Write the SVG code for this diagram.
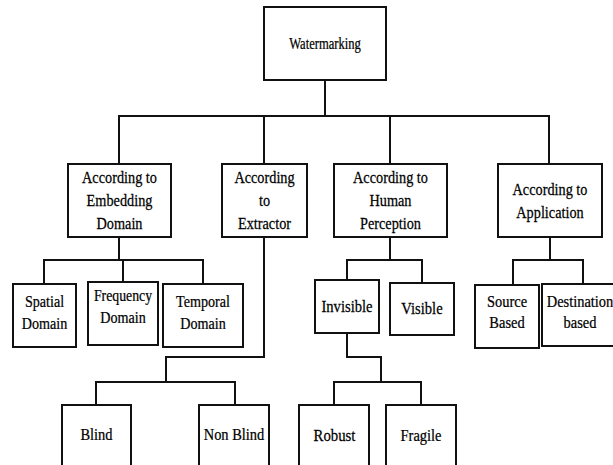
<svg xmlns="http://www.w3.org/2000/svg" width="613" height="465" viewBox="0 0 613 465">
<style>
  .box { fill: #fff; stroke: #111; stroke-width: 2; }
  .conn { fill: none; stroke: #111; stroke-width: 2; stroke-linejoin: miter; stroke-linecap: square; }
  text { font-family: 'Liberation Serif', 'DejaVu Serif', 'Times New Roman', serif; font-size: 17px; fill: #000; text-anchor: middle; stroke: #000; stroke-width: 0.25; }
</style>
<rect width="613" height="465" fill="#fff"/>
<g id="connectors">
  <polyline class="conn" points="325,80 325,116"/>
  <polyline class="conn" points="119,164 119,116 549,116 549,164"/>
  <polyline class="conn" points="264,116 264,164"/>
  <polyline class="conn" points="390,116 390,164"/>
  <polyline class="conn" points="119,237 119,260"/>
  <polyline class="conn" points="44,284 44,260 203,260 203,284"/>
  <polyline class="conn" points="123,260 123,282"/>
  <polyline class="conn" points="264,237 264,357 166,357 166,382"/>
  <polyline class="conn" points="96,405 96,382 235,382 235,405"/>
  <polyline class="conn" points="390,237 390,260"/>
  <polyline class="conn" points="347,280 347,260 422,260 422,283"/>
  <polyline class="conn" points="347,333 347,357 381,357 381,382"/>
  <polyline class="conn" points="334,405 334,382 421,382 421,405"/>
  <polyline class="conn" points="550,237 550,260"/>
  <polyline class="conn" points="513,285 513,260 583,260 583,284"/>
</g>
<g id="watermarking">
  <rect class="box" x="264" y="7" width="122" height="73"/>
  <text transform="translate(325 0) scale(0.74 1)" x="0" y="49" font-size="16">Watermarking</text>
</g>
<g id="embedding">
  <rect class="box" x="68" y="164" width="103" height="73"/>
  <text transform="translate(119.5 0) scale(0.84 1)" x="0" y="183">According to</text>
  <text transform="translate(119.5 0) scale(0.84 1)" x="0" y="206">Embedding</text>
  <text transform="translate(119.5 0) scale(0.84 1)" x="0" y="229">Domain</text>
</g>
<g id="extractor">
  <rect class="box" x="222" y="164" width="85" height="73"/>
  <text transform="translate(264.5 0) scale(0.84 1)" x="0" y="183">According</text>
  <text transform="translate(264.5 0) scale(0.84 1)" x="0" y="206">to</text>
  <text transform="translate(264.5 0) scale(0.84 1)" x="0" y="229">Extractor</text>
</g>
<g id="perception">
  <rect class="box" x="334" y="164" width="113" height="73"/>
  <text transform="translate(390.5 0) scale(0.84 1)" x="0" y="183">According to</text>
  <text transform="translate(390.5 0) scale(0.84 1)" x="0" y="206">Human</text>
  <text transform="translate(390.5 0) scale(0.84 1)" x="0" y="229">Perception</text>
</g>
<g id="application">
  <rect class="box" x="498" y="164" width="104" height="73"/>
  <text transform="translate(550 0) scale(0.84 1)" x="0" y="195">According to</text>
  <text transform="translate(550 0) scale(0.84 1)" x="0" y="218">Application</text>
</g>
<g id="spatial">
  <rect class="box" x="13" y="284" width="63" height="63"/>
  <text transform="translate(44.5 0) scale(0.83 1)" x="0" y="307">Spatial</text>
  <text transform="translate(44.5 0) scale(0.83 1)" x="0" y="329">Domain</text>
</g>
<g id="frequency">
  <rect class="box" x="88" y="282" width="70" height="63"/>
  <text transform="translate(123 0) scale(0.81 1)" x="0" y="301">Frequency</text>
  <text transform="translate(123 0) scale(0.83 1)" x="0" y="323">Domain</text>
</g>
<g id="temporal">
  <rect class="box" x="163" y="284" width="80" height="63"/>
  <text transform="translate(203 0) scale(0.83 1)" x="0" y="307">Temporal</text>
  <text transform="translate(203 0) scale(0.83 1)" x="0" y="329">Domain</text>
</g>
<g id="invisible">
  <rect class="box" x="315" y="280" width="64" height="53"/>
  <text transform="translate(347 0) scale(0.86 1)" x="0" y="312">Invisible</text>
</g>
<g id="visible">
  <rect class="box" x="390" y="283" width="64" height="52"/>
  <text transform="translate(422 0) scale(0.86 1)" x="0" y="314">Visible</text>
</g>
<g id="source">
  <rect class="box" x="475" y="285" width="64" height="63"/>
  <text transform="translate(507 0) scale(0.85 1)" x="0" y="307">Source</text>
  <text transform="translate(507 0) scale(0.85 1)" x="0" y="328">Based</text>
</g>
<g id="destination">
  <rect class="box" x="542" y="284" width="82" height="62"/>
  <text transform="translate(580 0) scale(0.85 1)" x="0" y="307">Destination</text>
  <text transform="translate(580 0) scale(0.85 1)" x="0" y="328">based</text>
</g>
<g id="blind">
  <rect class="box" x="62" y="405" width="69" height="70"/>
  <text transform="translate(96.5 0) scale(0.85 1)" x="0" y="440">Blind</text>
</g>
<g id="nonblind">
  <rect class="box" x="199" y="405" width="70" height="70"/>
  <text transform="translate(234 0) scale(0.85 1)" x="0" y="440">Non Blind</text>
</g>
<g id="robust">
  <rect class="box" x="299" y="405" width="70" height="70"/>
  <text transform="translate(334.5 0) scale(0.87 1)" x="0" y="441">Robust</text>
</g>
<g id="fragile">
  <rect class="box" x="386" y="405" width="70" height="70"/>
  <text transform="translate(421 0) scale(0.85 1)" x="0" y="441">Fragile</text>
</g>
</svg>
